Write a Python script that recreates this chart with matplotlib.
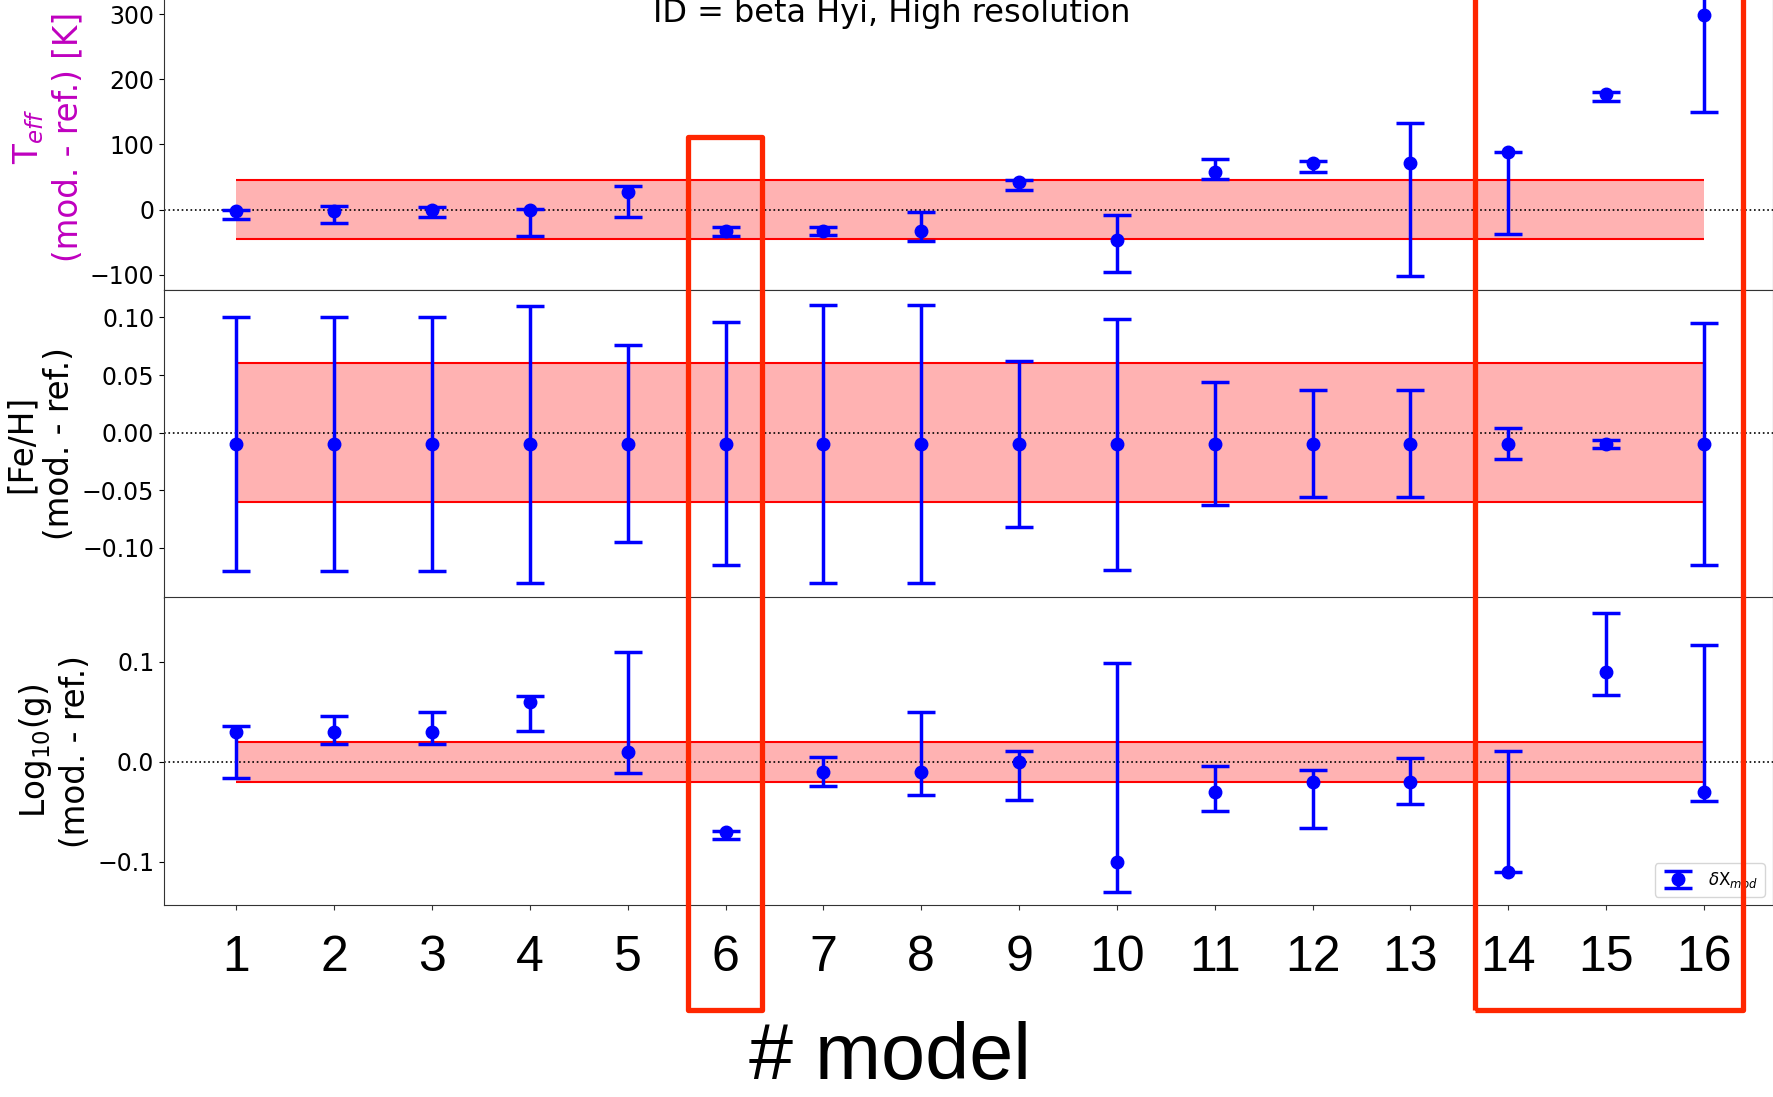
import numpy as np
import matplotlib.pyplot as plt
import matplotlib.transforms as mtransforms
from matplotlib.patches import Rectangle

# model numbers
models = np.arange(1, 17)
model_labels = [str(m) for m in models]

# Teff (mod. - ref.) [K]: value, lower bar end, upper bar end
teff_val = [-2, -2, -1, -1, 27, -33, -33, -33, 42, -47, 57, 72, 72, 88, 177, 298]
teff_lo = [-15, -20, -11, -41, -11, -40, -39, -48, 30, -96, 47, 58, -102, -38, 166, 150]
teff_hi = [0, 6, 4, 1, 36, -26, -26, -3, 45, -9, 78, 74, 133, 88, 181, 445]
teff_band = 45

# [Fe/H] (mod. - ref.)
feh_val = [-0.01] * 16
feh_lo = [-0.12, -0.12, -0.12, -0.13, -0.095, -0.115, -0.13, -0.13,
          -0.082, -0.119, -0.063, -0.056, -0.056, -0.023, -0.013, -0.115]
feh_hi = [0.10, 0.10, 0.10, 0.11, 0.076, 0.096, 0.111, 0.111,
          0.062, 0.099, 0.044, 0.037, 0.037, 0.004, -0.006, 0.095]
feh_band = 0.06

# Log10(g) (mod. - ref.)
logg_val = [0.03, 0.03, 0.03, 0.06, 0.01, -0.07, -0.01, -0.01,
            0.0, -0.10, -0.03, -0.02, -0.02, -0.11, 0.09, -0.03]
logg_lo = [-0.016, 0.018, 0.018, 0.031, -0.011, -0.077, -0.024, -0.033,
           -0.038, -0.130, -0.049, -0.066, -0.042, -0.110, 0.067, -0.039]
logg_hi = [0.036, 0.046, 0.050, 0.066, 0.110, -0.069, 0.005, 0.050,
           0.011, 0.099, -0.004, -0.008, 0.004, 0.011, 0.149, 0.117]
logg_band = 0.02

# highlighted model ranges (red boxes)
box_ranges = [(5.62, 6.37), (13.66, 16.40)]

fig = plt.figure(figsize=(17.73, 10.97), dpi=100)
left, width = 0.0925, 0.9075
ax1 = fig.add_axes([left, 0.7356, width, 0.2800])
ax2 = fig.add_axes([left, 0.4553, width, 0.2800])
ax3 = fig.add_axes([left, 0.1750, width, 0.2805])

panels = [
    (ax1, teff_val, teff_lo, teff_hi, teff_band, (-123.5, 348), [-100, 0, 100, 200, 300],
     'T$_{eff}$\n(mod. - ref.) [K]', 'm'),
    (ax2, feh_val, feh_lo, feh_hi, feh_band, (-0.143, 0.1234), [-0.10, -0.05, 0.0, 0.05, 0.10],
     '[Fe/H]\n(mod. - ref.)', 'k'),
    (ax3, logg_val, logg_lo, logg_hi, logg_band, (-0.1433, 0.1644), [-0.1, 0.0, 0.1],
     'Log$_{10}$(g)\n(mod. - ref.)', 'k'),
]

for ax, val, lo, hi, band, ylim, yticks, ylabel, lcol in panels:
    val = np.array(val)
    yerr = [val - np.array(lo), np.array(hi) - val]
    ax.fill_between(models, -band, band, color='red', alpha=0.3, lw=0)
    ax.hlines([-band, band], models[0], models[-1], color='red', lw=1.5)
    ax.axhline(0, color='k', ls=':', lw=1.2)
    lab = r'$\delta$X$_{mod}$' if ax is ax3 else None
    ax.errorbar(models, val, yerr=yerr, fmt='o', color='blue', markersize=9,
                elinewidth=2.5, capsize=10, capthick=2.5, label=lab)
    ax.set_xlim(0.261, 16.705)
    ax.set_ylim(*ylim)
    ax.set_yticks(yticks)
    ax.tick_params(axis='y', labelsize=17)
    ax.set_ylabel(ylabel, fontsize=23.5, color=lcol)
    for s in ax.spines.values():
        s.set_color('#333333')

for ax in (ax1, ax2):
    ax.tick_params(axis='x', bottom=False, labelbottom=False)

ax3.set_xticks(models)
ax3.set_xticklabels(model_labels, fontsize=36, family='Liberation Sans')
ax3.tick_params(axis='x', pad=18, colors='#333333', labelcolor='black')
ax3.legend(loc='lower right', fontsize=12)

fig.text(0.503, 0.980, 'ID = beta Hyi, High resolution', fontsize=23,
         ha='center', va='baseline')
fig.text(0.502, 0.016, '# model', fontsize=57, family='Liberation Sans',
         ha='center', va='baseline')

trans = mtransforms.blended_transform_factory(ax3.transData, fig.transFigure)
box_tops = [0.8754, 1.05]
for (x0, x1), top in zip(box_ranges, box_tops):
    rect = Rectangle((x0, 0.0793), x1 - x0, top - 0.0793, transform=trans,
                     fill=False, edgecolor='#ff2600', lw=3.8, joinstyle='round',
                     clip_on=False, zorder=10)
    fig.add_artist(rect)

fig.savefig('out.png', dpi=100)
